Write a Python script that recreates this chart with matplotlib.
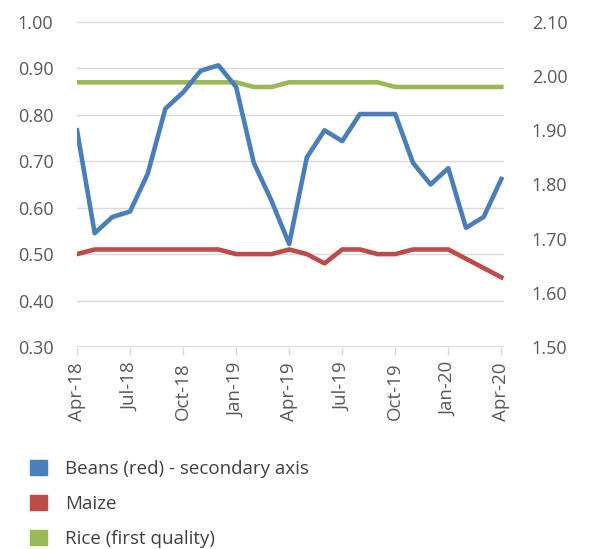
import matplotlib.pyplot as plt
from matplotlib.patches import Patch

months = ['Apr-18', 'May-18', 'Jun-18', 'Jul-18', 'Aug-18', 'Sep-18', 'Oct-18',
          'Nov-18', 'Dec-18', 'Jan-19', 'Feb-19', 'Mar-19', 'Apr-19', 'May-19',
          'Jun-19', 'Jul-19', 'Aug-19', 'Sep-19', 'Oct-19', 'Nov-19', 'Dec-19',
          'Jan-20', 'Feb-20', 'Mar-20', 'Apr-20']

# beans price is on the secondary axis
beans = [1.90, 1.71, 1.74, 1.75, 1.82, 1.94, 1.97, 2.01, 2.02, 1.98, 1.84, 1.77,
         1.69, 1.85, 1.90, 1.88, 1.93, 1.93, 1.93, 1.84, 1.80, 1.83, 1.72, 1.74, 1.81]
maize = [0.50, 0.51, 0.51, 0.51, 0.51, 0.51, 0.51, 0.51, 0.51, 0.50, 0.50, 0.50,
         0.51, 0.50, 0.48, 0.51, 0.51, 0.50, 0.50, 0.51, 0.51, 0.51, 0.49, 0.47, 0.45]
rice = [0.87, 0.87, 0.87, 0.87, 0.87, 0.87, 0.87, 0.87, 0.87, 0.87, 0.86, 0.86,
        0.87, 0.87, 0.87, 0.87, 0.87, 0.87, 0.86, 0.86, 0.86, 0.86, 0.86, 0.86, 0.86]

left_ticks = [0.30, 0.40, 0.50, 0.60, 0.70, 0.80, 0.90, 1.00]
right_ticks = [1.50, 1.60, 1.70, 1.80, 1.90, 2.00, 2.10]

blue = '#4a7ebb'
red = '#be4b48'
green = '#98b954'
txt = '#595959'

plt.rcParams['font.family'] = ['Open Sans', 'DejaVu Sans']

fig = plt.figure(figsize=(5.9, 5.49), dpi=100)
ax = fig.add_axes([0.1305, 0.368, 0.7237, 0.592])
ax2 = ax.twinx()

x = list(range(len(months)))

ax.plot(x, maize, color=red, lw=3.3, solid_joinstyle='round', zorder=3)
ax.plot(x, rice, color=green, lw=3.3, solid_joinstyle='round', zorder=3)
ax2.plot(x, beans, color=blue, lw=3.3, solid_joinstyle='round', zorder=3)

ax.set_ylim(0.30, 1.00)
ax.set_yticks(left_ticks)
ax.set_yticklabels(['%.2f' % v for v in left_ticks])
ax2.set_ylim(1.50, 2.10)
ax2.set_yticks(right_ticks)
ax2.set_yticklabels(['%.2f' % v for v in right_ticks])

ax.set_xlim(0, 24.15)
ax.set_xticks(x[::3])
ax.set_xticklabels(months[::3], rotation=90)

ax.grid(axis='y', color='#d9d9d9', lw=1)
ax.set_axisbelow(True)

for a in (ax, ax2):
    for s in ('left', 'right', 'top', 'bottom'):
        a.spines[s].set_visible(False)

ax.axhline(0.30, color='#d9d9d9', lw=1.2, zorder=2)
ax.tick_params(axis='x', length=6, color='#d9d9d9', width=1, labelsize=13.5,
               labelcolor=txt, pad=5)
ax.tick_params(axis='y', length=0, labelsize=13, labelcolor=txt, pad=17)
ax2.tick_params(axis='y', length=0, labelsize=13, labelcolor=txt, pad=20)

handles = [Patch(color=blue), Patch(color=red), Patch(color=green)]
labels = ['Beans (red) - secondary axis', 'Maize', 'Rice (first quality)']
fig.legend(handles, labels, loc='upper left', bbox_to_anchor=(0.051, 0.163),
           frameon=False, fontsize=13.5, labelcolor='#404040',
           borderpad=0, borderaxespad=0,
           handlelength=0.9, handleheight=0.9, handletextpad=0.95,
           labelspacing=0.9)

fig.savefig('out.png', dpi=100)
